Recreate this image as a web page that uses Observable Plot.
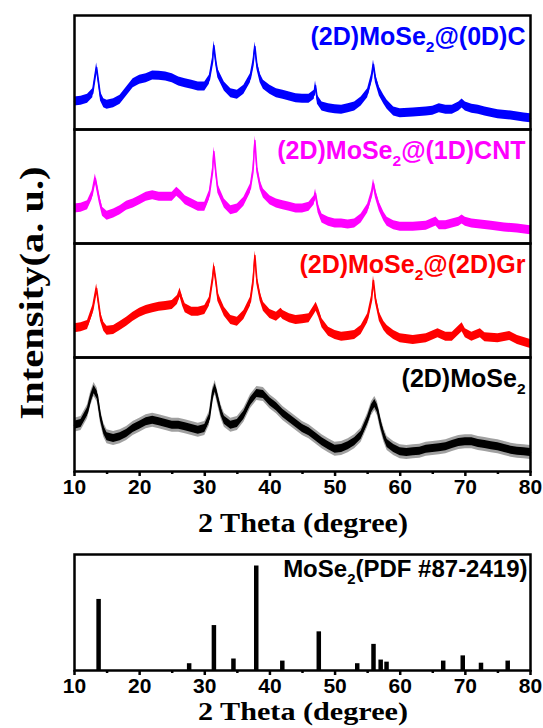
<!DOCTYPE html>
<html>
<head>
<meta charset="utf-8">
<script src="https://cdn.jsdelivr.net/npm/d3@7"></script>
<script src="https://cdn.jsdelivr.net/npm/@observablehq/plot@0.6"></script>
<style>
  body { margin: 0; background: #fff; }
  #fig { position: relative; width: 543px; height: 728px; overflow: hidden; }
  #fig svg { display: block; }
</style>
</head>
<body>
<div id="fig"></div>
<script>
// XRD patterns, stacked one per panel: [2θ (degree), intensity (a.u.)]
const panelNames = ["(2D)MoSe2@(0D)C", "(2D)MoSe2@(1D)CNT", "(2D)MoSe2@(2D)Gr", "(2D)MoSe2"];
const panelColors = ["#0000ff", "#ff00ff", "#ff0000", "#000000"];

const scanC = [
  [10,28],[11,28.7],[12,30.7],[12.8,36.3],[13.4,62],[14,33],[14.5,26.3],[15,24.7],[16,26.3],[17,29.7],
  [18,38],[19,46.3],[20,49.7],[21,51.3],[22,54],[23,53.7],[24,53],[25,51.3],[26,48],[27,46.3],
  [28,44.7],[29,43],[30,43],[30.7,49.7],[31.2,68],[31.4,84],[31.7,68],[32,56.3],[33,43],[34,36.3],
  [35,34.7],[36,39.7],[37,51.3],[37.4,64.7],[37.7,83],[38,64.7],[38.5,51.3],[39,44.7],[40,39.7],[41,36.3],
  [42,34.7],[43,33],[44,31.3],[45,30.7],[46,30.7],[46.8,34.7],[47,44],[47.3,29.7],[48,23],[49,21.3],
  [50,20.3],[51,19.7],[52,21.3],[53,23],[54,28],[55,36.3],[55.6,51.3],[55.9,65],[56.2,51.3],[56.8,38],
  [57.5,29.7],[58,24.7],[59,18],[60,16.3],[62,17],[64,18],[65,18.7],[66,21.3],[67,19.7],[68,19.7],
  [69,23],[69.5,26],[70,23],[71,20.7],[72,19.7],[73,18],[75,15.3],[77,14],[79,12],[80,11.3]
];
const scanCNT = [
  [10,35],[11,35.7],[12,38.3],[12.7,48.3],[13.2,65],[13.8,45],[14.3,31.7],[15,27.7],[16,30],[17,33.3],
  [18,37.7],[19,40],[20,43.3],[21,46.7],[22,48.3],[23,46.7],[24,46.7],[25,46.7],[25.7,51.7],[26.3,48.3],
  [27,43.3],[28,40],[29,36.7],[30,36.7],[30.7,48.3],[31.2,71.7],[31.4,92],[31.7,71.7],[32,55],[33,40],
  [34,33.3],[35,35],[36,41.7],[37,55],[37.4,71.7],[37.7,103],[38,75],[38.5,58.3],[39,50],[40,43.3],
  [41,40],[42,38.3],[43,36.7],[44,35],[45,35],[46,36.7],[46.8,43.3],[47,50],[47.4,35],[48,25],
  [49,21.7],[50,20],[51,20],[52,19],[53,20],[54,25],[55,35],[55.6,48.3],[55.9,60],[56.2,50],
  [56.8,36.7],[57.5,26.7],[58,21.7],[59,18.3],[60,16.7],[62,16.7],[64,17.7],[65.5,22],[66,18.3],[67,18.3],
  [68,20],[69,21.7],[69.5,24],[70,21.7],[71,20],[72,19.3],[74,17.7],[76,16],[78,15],[80,13.3]
];
const scanGr = [
  [10,29.2],[11,30.2],[12,32.5],[12.8,47.5],[13.4,69],[14,40.8],[14.5,30.8],[15,26.8],[16,27.5],[17,31.5],
  [18,35.8],[19,40.8],[20,44.8],[21,47.5],[22,49.2],[23,50.8],[24,51.5],[25,52.5],[25.8,57.5],[26.2,65],
  [26.6,55.8],[27,49.2],[28,45.8],[29,45.8],[30,47.5],[30.7,55.8],[31.2,77.5],[31.4,91],[31.7,77.5],[32,60.8],
  [33,45.8],[34,37.5],[35,35.8],[36,42.5],[37,55.8],[37.4,74.2],[37.7,102],[38,77.5],[38.5,60.8],[39,50.8],
  [40,43.5],[41,40.8],[41.7,44.8],[42,42.5],[43,39.2],[44,37.5],[45,38.2],[46,39.2],[46.8,47.5],[47.1,50.8],
  [47.5,44.2],[48,34.2],[49,25.8],[50,22.5],[51,20.8],[52,21.5],[53,22.5],[54,27.5],[55,39.2],[55.6,57.5],
  [55.9,77],[56.2,59.2],[56.8,40.8],[57.5,31.5],[58,27.5],[59,22.5],[60,19.2],[62,17.5],[64,19.2],[65.8,24.2],
  [67,20.8],[68,20.8],[69.5,30.2],[70,24.2],[71,20.8],[72.3,24.2],[73,20.2],[75,19.2],[76.8,21.5],[78,17.5],[80,13.5]
];
const scanBare = [
  [10,46.3],[11,48],[12,59.7],[12.5,73],[13,82],[13.5,76.3],[14,54.7],[14.5,41.3],[15,34.7],[16,33],
  [17,34.7],[18,38],[19,43],[20,46.3],[21,49.7],[22,51.3],[23,49.7],[24,48],[25,46.3],[26,46.3],
  [27,44.7],[28,43],[29,41.3],[30,43],[30.7,53],[31.2,76.3],[31.6,84],[32,73],[32.5,59.7],[33,51.3],
  [34,46.3],[35,48],[36,56.3],[37,69.7],[38,78],[39,77],[40,69.7],[41,64.7],[42,58],[43,53],
  [44,48],[45,43],[46,39.7],[47,34.7],[48,29.7],[49,25.7],[50,22.3],[51,23],[52,25.7],[53,29.7],
  [54,36.3],[55,51.3],[55.6,63],[56.1,68],[56.5,63],[57,48],[57.5,36.3],[58,28],[59,23],[60,19.7],
  [61,19],[62,19.7],[63,20.3],[64,22.3],[65,23],[66,23.7],[67,24.7],[68,27],[69,29],[70,29.7],
  [71,29.7],[72,28],[73,27],[74,25.7],[75,24.7],[76,23],[77,21.3],[78,20.3],[79,19.7],[80,19]
];

// Standard pattern MoSe2 (PDF #87-2419): peak positions and relative intensities
const refLabel = "MoSe2(PDF #87-2419)";
const refAngles = [13.7, 27.6, 31.4, 34.4, 37.9, 41.9, 47.5, 53.4, 55.9, 57.0, 57.9, 66.6, 69.6, 72.4, 76.5];
const refIntensity = [68, 6.5, 43, 11, 100, 9, 37, 6.5, 25, 10, 8, 9, 14, 7, 9];

const xTicks = [10, 20, 30, 40, 50, 60, 70, 80];
const xMinorTicks = [15, 25, 35, 45, 55, 65, 75];
const xTitle = "2 Theta (degree)";
const yTitle = "Intensity(a. u.)";

const sans = "'Liberation Sans', Arial, Helvetica, sans-serif";
const serif = "'Liberation Serif', 'Times New Roman', serif";
const W = 543, ML = 74, MR = 13;

// band = half-thickness of the noisy trace, halo = lighter fringe around it
const series = [
  {name: panelNames[0], color: panelColors[0], scan: scanC, band: 4.5, halo: null},
  {name: panelNames[1], color: panelColors[1], scan: scanCNT, band: 4.5, halo: null},
  {name: panelNames[2], color: panelColors[2], scan: scanGr, band: 4.5, halo: null},
  {name: panelNames[3], color: panelColors[3], scan: scanBare, band: 4, halo: "#777777"}
];

function axes() {
  return [
    Plot.axisX({ticks: xTicks, tickSize: 5, tickPadding: 3, tickFormat: d => String(d),
      fontSize: 21, fontWeight: "bold", strokeWidth: 2.5, label: null}),
    Plot.axisX({ticks: xMinorTicks, tickSize: 3, tickFormat: () => "", strokeWidth: 2.5, label: null})
  ];
}

// Render "MoSe2" with the 2 as a subscript
function subscripts(svg, size) {
  d3.select(svg).selectAll("text").each(function () {
    const t = this.textContent;
    const i = t.indexOf("MoSe2");
    if (i < 0 || this.querySelector("tspan")) return;
    const el = d3.select(this).text(null);
    el.append("tspan").text(t.slice(0, i + 4));
    el.append("tspan").attr("dy", 0.28 * size).attr("font-size", 0.62 * size).text("2");
    el.append("tspan").attr("dy", -0.28 * size).text(t.slice(i + 5));
  });
}

// Stacked XRD panels
const topPlot = Plot.plot({
  width: W, height: 540,
  marginLeft: ML, marginRight: MR, marginTop: 14, marginBottom: 69,
  style: {fontFamily: sans, fontWeight: "bold", background: "transparent", overflow: "visible"},
  x: {domain: [10, 80]},
  y: {domain: [0, 114], axis: null},
  fy: {domain: panelNames, axis: null, padding: 0},
  marks: [
    ...series.flatMap(s => {
      const d = s.scan.map(([t, v]) => ({panel: s.name, t, v}));
      const marks = [];
      if (s.halo) marks.push(Plot.areaY(d, {x: "t", y1: p => p.v - s.band - 3, y2: p => p.v + s.band + 3, fy: "panel", fill: s.halo, fillOpacity: 0.7}));
      marks.push(Plot.areaY(d, {x: "t", y1: p => p.v - s.band, y2: p => p.v + s.band, fy: "panel", fill: s.color}));
      marks.push(Plot.line(d, {x: "t", y: "v", fy: "panel", stroke: s.color, strokeWidth: 1.5}));
      marks.push(Plot.text([s.name], {fy: n => n, text: n => n, frameAnchor: "top-right", textAnchor: "end",
        lineAnchor: "middle", dx: -5, dy: 21, fill: s.color, fontSize: 25, fontWeight: "bold"}));
      return marks;
    }),
    Plot.frame({stroke: "black", strokeWidth: 2.5}),
    ...axes()
  ]
});
subscripts(topPlot, 25);

const ts = d3.select(topPlot);
ts.append("text")
  .attr("transform", "translate(31,293) rotate(-90)")
  .attr("text-anchor", "middle").attr("dy", "0.35em")
  .attr("font-family", serif).attr("font-size", 33).attr("font-weight", "bold").attr("fill", "black")
  .attr("textLength", 253).attr("lengthAdjust", "spacingAndGlyphs")
  .text(yTitle);
ts.append("text")
  .attr("x", 303).attr("y", 532).attr("text-anchor", "middle")
  .attr("font-family", serif).attr("font-size", 27).attr("font-weight", "bold").attr("fill", "black")
  .attr("textLength", 210).attr("lengthAdjust", "spacingAndGlyphs")
  .text(xTitle);

// Standard reference stick pattern
const refRows = refAngles.map((t, i) => ({t, v: refIntensity[i]}));
const bottomPlot = Plot.plot({
  width: W, height: 188,
  marginLeft: ML, marginRight: MR, marginTop: 14, marginBottom: 58,
  style: {fontFamily: sans, fontWeight: "bold", background: "transparent", overflow: "visible"},
  x: {domain: [10, 80]},
  y: {domain: [0, 111], axis: null},
  marks: [
    Plot.ruleX(refRows, {x: "t", y1: 0, y2: "v", stroke: "black", strokeWidth: 4.5}),
    Plot.frame({stroke: "black", strokeWidth: 2.5}),
    Plot.text([refLabel], {text: d => d, frameAnchor: "top-right", textAnchor: "end", lineAnchor: "middle",
      dx: -3, dy: 15, fill: "black", fontSize: 24, fontWeight: "bold"}),
    ...axes()
  ]
});
subscripts(bottomPlot, 24);
d3.select(bottomPlot).append("text")
  .attr("x", 303).attr("y", 180).attr("text-anchor", "middle")
  .attr("font-family", serif).attr("font-size", 25).attr("font-weight", "bold").attr("fill", "black")
  .attr("textLength", 210).attr("lengthAdjust", "spacingAndGlyphs")
  .text(xTitle);

const fig = document.getElementById("fig");
fig.append(topPlot, bottomPlot);
</script>
</body>
</html>
